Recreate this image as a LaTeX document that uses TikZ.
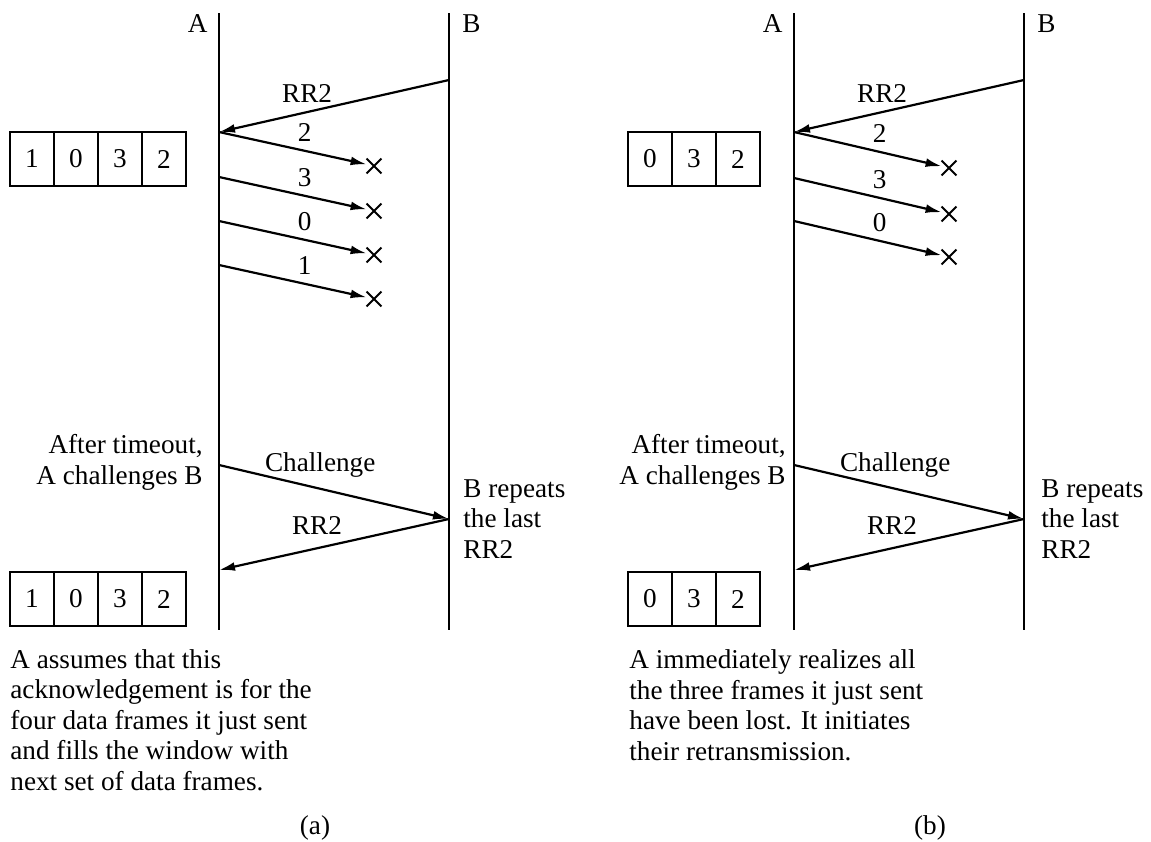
\documentclass[tikz,border=0pt]{standalone}
\usepackage{fontspec}
\setmainfont{Liberation Serif}
\usetikzlibrary{arrows.meta,positioning,shapes.misc}

\begin{document}
\begin{tikzpicture}[x=0.5pt, y=-0.5pt, >={Latex[length=8pt,width=4.4pt]},
  font=\fontsize{13.6}{15.2}\selectfont,
  lifeline/.style={line width=1.3pt},
  msg/.style={->, line width=1.1pt},
  lost/.style={cross out, draw, line width=0.9pt, minimum size=6.5pt, inner sep=0pt},
  cell/.style={draw, line width=1pt, minimum width=22pt, minimum height=27pt,
    inner sep=0pt, outer sep=0pt},
  lbl/.style={inner sep=0pt},
  note/.style={inner sep=0pt, align=left, anchor=base west}]

  \useasboundingbox (0,0) rectangle (1151,841);

  % ── (a) four frames outstanding ───────────────────────────────────────
  % stations
  \coordinate (aA0) at (219,13);
  \coordinate (aA1) at (219,630);
  \coordinate (aB0) at (449,13);
  \coordinate (aB1) at (449,630);
  \draw[lifeline] (aA0) -- (aA1);
  \draw[lifeline] (aB0) -- (aB1);
  \node[lbl, anchor=base east] (aAname) at (208,32) {A};
  \node[lbl, anchor=base west] (aBname) at (462,32) {B};

  % last RR2 from B
  \coordinate (aRR) at (449,80);
  \coordinate (aGot) at (219,132);
  \draw[msg] (aRR) -- (aGot)
    node[lbl, pos=0.617, anchor=south, yshift=4pt] {RR2};

  % window before sending
  \node[cell, anchor=west] (aW1) at (10,159) {1};
  \node[cell, right=0pt of aW1] (aW2) {0};
  \node[cell, right=0pt of aW2] (aW3) {3};
  \node[cell, right=0pt of aW3] (aW4) {2};

  % frames 2,3,0,1 all lost
  \foreach \s/\f [count=\i] in {132/2,177/3,221/0,265/1}{
    \coordinate (aD\i) at (219,\s);
    \node[lost] (aX\i) at (374,\s+34) {};
    \draw[msg] (aD\i) -- (aX\i)
      node[lbl, pos=0.58, anchor=south, yshift=4pt] {\f};
  }

  % timeout, challenge and reply
  \node[lbl, align=right, anchor=base east] (aTimeout) at (203,484)
    {After timeout,\\A challenges B};
  \coordinate (aCh) at (219,465);
  \coordinate (aRep) at (449,519);
  \coordinate (aAck) at (219,570);
  \draw[msg] (aCh) -- (aRep)
    node[lbl, pos=0.44, anchor=south, yshift=5pt] {Challenge};
  \draw[msg] (aRep) -- (aAck)
    node[lbl, pos=0.574, anchor=south, yshift=6.5pt] {RR2};
  \node[note] (aRepeat) at (463,558) {B repeats\\the last\\RR2};

  % window after the reply
  \node[cell, anchor=west] (aV1) at (10,599) {1};
  \node[cell, right=0pt of aV1] (aV2) {0};
  \node[cell, right=0pt of aV2] (aV3) {3};
  \node[cell, right=0pt of aV3] (aV4) {2};

  \node[note] (aNote) at (10,790)
    {A assumes that this\\acknowledgement is for the\\four data frames it just sent\\and fills the window with\\next set of data frames.};
  \node[lbl, anchor=base] (aCap) at (315,834) {(a)};

  % ── (b) three frames outstanding ──────────────────────────────────────
  \begin{scope}[shift={(575,0)}]
    % stations
    \coordinate (bA0) at (219,13);
    \coordinate (bA1) at (219,630);
    \coordinate (bB0) at (449,13);
    \coordinate (bB1) at (449,630);
    \draw[lifeline] (bA0) -- (bA1);
    \draw[lifeline] (bB0) -- (bB1);
    \node[lbl, anchor=base east] (bAname) at (208,32) {A};
    \node[lbl, anchor=base west] (bBname) at (462,32) {B};

    % last RR2 from B
    \coordinate (bRR) at (449,80);
    \coordinate (bGot) at (219,132);
    \draw[msg] (bRR) -- (bGot)
      node[lbl, pos=0.617, anchor=south, yshift=4pt] {RR2};

    % window before sending
    \node[cell, anchor=west] (bW1) at (53,159) {0};
    \node[cell, right=0pt of bW1] (bW2) {3};
    \node[cell, right=0pt of bW2] (bW3) {2};

    % frames 2,3,0 all lost
    \foreach \s/\f [count=\i] in {132/2,178/3,221/0}{
      \coordinate (bD\i) at (219,\s);
      \node[lost] (bX\i) at (374,\s+36) {};
      \draw[msg] (bD\i) -- (bX\i)
        node[lbl, pos=0.58, anchor=south, yshift=4pt] {\f};
    }

    % timeout, challenge and reply
    \node[lbl, align=right, anchor=base east] (bTimeout) at (211,484)
      {After timeout,\\A challenges B};
    \coordinate (bCh) at (219,465);
    \coordinate (bRep) at (449,519);
    \coordinate (bAck) at (219,570);
    \draw[msg] (bCh) -- (bRep)
      node[lbl, pos=0.44, anchor=south, yshift=5pt] {Challenge};
    \draw[msg] (bRep) -- (bAck)
      node[lbl, pos=0.574, anchor=south, yshift=6.5pt] {RR2};
    \node[note] (bRepeat) at (466,558) {B repeats\\the last\\RR2};

    % window after the reply
    \node[cell, anchor=west] (bV1) at (53,599) {0};
    \node[cell, right=0pt of bV1] (bV2) {3};
    \node[cell, right=0pt of bV2] (bV3) {2};

    \node[note] (bNote) at (54,760)
      {A immediately realizes all\\the three frames it just sent\\have been lost. It initiates\\their retransmission.};
    \node[lbl, anchor=base] (bCap) at (355,834) {(b)};
  \end{scope}

\end{tikzpicture}
\end{document}
